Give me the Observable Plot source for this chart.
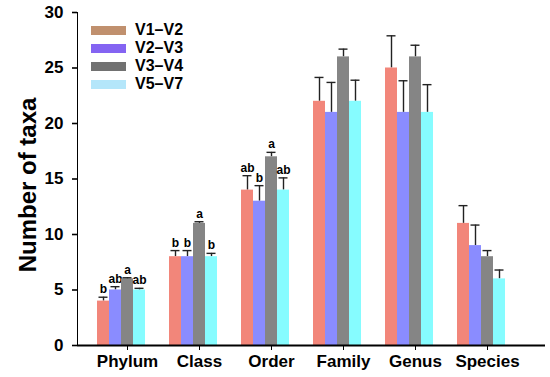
<!DOCTYPE html>
<html>
<head>
<meta charset="utf-8">
<script src="https://cdn.jsdelivr.net/npm/d3@7"></script>
<script src="https://cdn.jsdelivr.net/npm/@observablehq/plot@0.6"></script>
<style>
  html, body { margin: 0; padding: 0; background: #fff; }
  #wrap { position: relative; width: 550px; height: 377px; font-family: "Liberation Sans", Arial, sans-serif; }
  #wrap svg { font-family: "Liberation Sans", Arial, sans-serif; font-weight: bold; }
  #wrap [aria-label^="x-axis"] text { font-size: 17px; }
  #wrap [aria-label^="y-axis"] text { font-size: 17px; }
  #wrap [aria-label^="y-axis"] { stroke-width: 1.6; }
  #legend { position: absolute; left: 91px; top: 21px; font-weight: bold; font-size: 16px; color: #000; }
  #legend .row { display: flex; align-items: center; height: 18px; }
  #legend .sw { width: 35px; height: 9px; margin-right: 9px; }
</style>
</head>
<body>
<div id="wrap"></div>
<script>
const categories = ["Phylum", "Class", "Order", "Family", "Genus", "Species"];
const series = ["V1–V2", "V2–V3", "V3–V4", "V5–V7"];
const barColors = ["#F2867A", "#8A8CFF", "#858585", "#86FCFF"];
const legendColors = ["#C0906E", "#8464F2", "#717171", "#B4E6FA"];

const v1v2 = [4, 8, 14, 22, 25, 11];
const v2v3 = [5, 8, 13, 21, 21, 9];
const v3v4 = [6, 11, 17, 26, 26, 8];
const v5v7 = [5, 8, 14, 22, 21, 6];

const v1v2Err = [0.35, 0.55, 1.3, 2.15, 2.9, 1.6];
const v2v3Err = [0.3, 0.55, 1.4, 2.7, 2.85, 1.85];
const v3v4Err = [0.1, 0.15, 0.4, 0.7, 1.05, 0.55];
const v5v7Err = [0.15, 0.3, 1.1, 1.9, 2.5, 0.8];

const v1v2Sig = ["b", "b", "ab", "", "", ""];
const v2v3Sig = ["ab", "b", "b", "", "", ""];
const v3v4Sig = ["a", "a", "a", "", "", ""];
const v5v7Sig = ["ab", "b", "ab", "", "", ""];

const yTicks = [0, 5, 10, 15, 20, 25, 30];

const values = [v1v2, v2v3, v3v4, v5v7];
const errs = [v1v2Err, v2v3Err, v3v4Err, v5v7Err];
const sigs = [v1v2Sig, v2v3Sig, v3v4Sig, v5v7Sig];

const BW = 48, SUB = 12, SHIFT = -6;

const marks = [];
series.forEach((s, i) => {
  const rows = categories.map((c, j) => ({
    category: c, series: s, value: values[i][j], top: values[i][j] + errs[i][j], sig: sigs[i][j]
  }));
  marks.push(Plot.ruleX(rows, {x: "category", y1: "value", y2: "top", stroke: "#222", strokeWidth: 1.4, dx: SHIFT + SUB * i + SUB / 2 - BW / 2}));
  marks.push(Plot.barY(rows, {x: "category", y: "value", fill: barColors[i], insetLeft: SUB * i, insetRight: SUB * (3 - i), dx: SHIFT}));
  marks.push(Plot.tickY(rows, {x: "category", y: "top", stroke: "#222", strokeWidth: 1.4, insetLeft: SUB * i + 1.5, insetRight: BW - (SUB * i + 10.5), dx: SHIFT}));
  marks.push(Plot.text(rows.filter(d => d.sig), {x: "category", y: "top", text: "sig", fontSize: 12, fontWeight: "bold", fill: "#000", lineAnchor: "bottom", dy: -4, dx: SHIFT + SUB * i + SUB / 2 - BW / 2}));
});

const chart = Plot.plot({
  width: 550,
  height: 377,
  marginLeft: 77,
  marginRight: 5,
  marginTop: 12,
  marginBottom: 32,
  style: {background: "#fff", color: "#000", overflow: "visible"},
  x: {domain: categories, range: [89.8, 524.3], paddingInner: 0.3375, paddingOuter: 0.16875, label: null, tickSize: 5, tickPadding: 4},
  y: {domain: [0, 30], ticks: yTicks, label: null, tickSize: 5, tickPadding: 9, line: true},
  marks: [
    ...marks,
    Plot.ruleY([0], {stroke: "#000", strokeWidth: 2}),
    Plot.text(["Number of taxa"], {frameAnchor: "left", textAnchor: "middle", rotate: -90, dx: -49, dy: 6, fontSize: 24, fontWeight: "bold", fill: "#000", text: d => d})
  ]
});

const wrap = document.getElementById("wrap");
wrap.appendChild(chart);

const legend = document.createElement("div");
legend.id = "legend";
series.forEach((s, i) => {
  const row = document.createElement("div");
  row.className = "row";
  const sw = document.createElement("div");
  sw.className = "sw";
  sw.style.background = legendColors[i];
  const lab = document.createElement("span");
  lab.textContent = s;
  row.appendChild(sw);
  row.appendChild(lab);
  legend.appendChild(row);
});
wrap.appendChild(legend);
</script>
</body>
</html>
